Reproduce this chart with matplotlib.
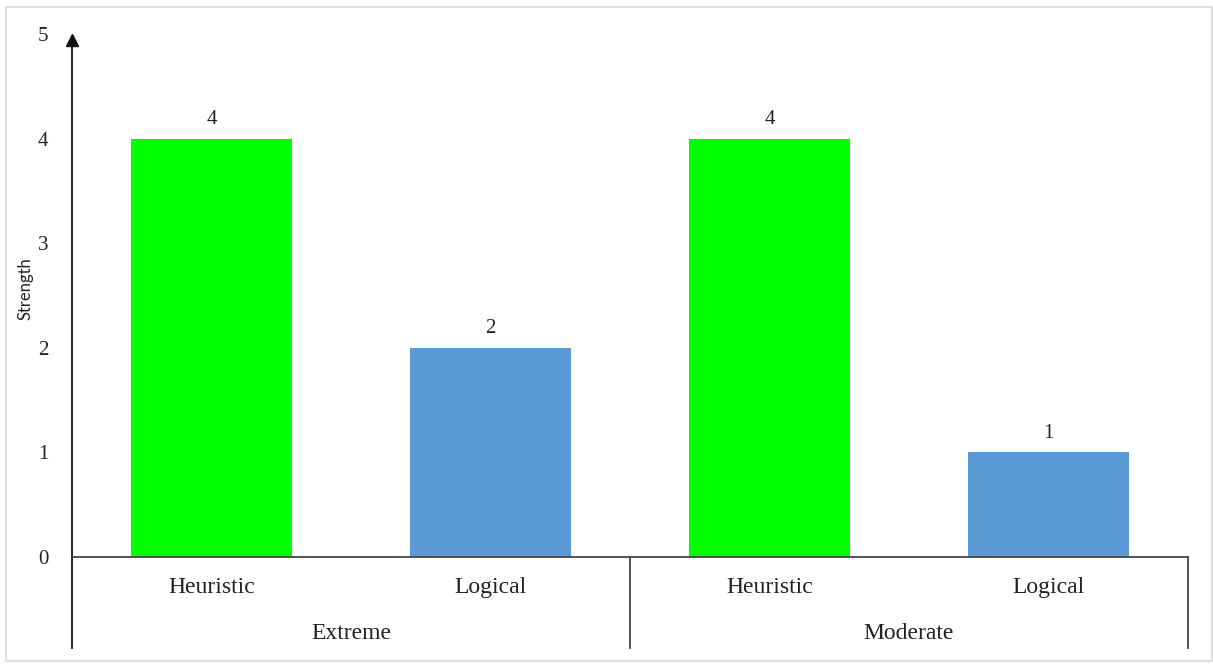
import matplotlib
matplotlib.use("Agg")
import matplotlib.pyplot as plt
from matplotlib.patches import Rectangle

# данные графика
groups = ["Extreme", "Moderate"]
methods = ["Heuristic", "Logical", "Heuristic", "Logical"]
strength = [4, 2, 4, 1]
bar_colors = ["#00FF00", "#5B9BD5", "#00FF00", "#5B9BD5"]
y_ticks = [0, 1, 2, 3, 4, 5]

plt.rcParams['font.family'] = ['Liberation Serif', 'DejaVu Serif']

fig = plt.figure(figsize=(12.13, 6.66), dpi=100)
ax = fig.add_axes([0.0594, 0.1637, 0.9200, 0.7845])

# рамка вокруг картинки
fig.patches.append(Rectangle((0.005, 0.008), 0.994, 0.981, transform=fig.transFigure,
                             fill=False, edgecolor="#d9d9d9", linewidth=1.2))

x = list(range(len(methods)))
bars = ax.bar(x, strength, width=0.575, color=bar_colors, zorder=2)

for b, v in zip(bars, strength):
    ax.annotate(str(v), (b.get_x() + b.get_width() / 2, v), xytext=(0, 7),
                textcoords="offset points", ha="center", va="bottom", fontsize=15, color="#222222")

ax.set_xlim(-0.5, len(methods) - 0.5)
ax.set_ylim(0, 5)
ax.set_yticks(y_ticks)
ax.tick_params(axis="y", length=0, pad=17, labelsize=15, colors="#222222")
ax.set_xticks([])

for s in ["top", "right"]:
    ax.spines[s].set_visible(False)
ax.spines["left"].set_visible(False)
ax.spines["bottom"].set_color("#444444")
ax.spines["bottom"].set_linewidth(1.3)

# вертикальная ось со стрелкой
ax.plot([-0.5, -0.5], [-0.174, 0.99], transform=ax.get_xaxis_transform(),
        color="#111111", lw=1.3, clip_on=False)
ax.plot([-0.5], [0.99], marker="^", markersize=8, color="#111111",
        transform=ax.get_xaxis_transform(), clip_on=False)

# разделители групп
for xd in [1.5, 3.5]:
    ax.plot([xd, xd], [-0.174, 0], transform=ax.get_xaxis_transform(),
            color="#444444", lw=1.3, clip_on=False)

trans = ax.get_xaxis_transform()
for xi, m in zip(x, methods):
    ax.text(xi, -0.058, m, transform=trans, ha="center", va="center", fontsize=17, color="#222222")
for gi, g in enumerate(groups):
    ax.text(gi * 2 + 0.5, -0.147, g, transform=trans, ha="center", va="center", fontsize=17, color="#222222")

fig.text(0.021, 0.566, "Strength", rotation=90, ha="center", va="center",
         fontsize=12, family=["Lato", "DejaVu Sans"], color="#222222")

fig.savefig("out.png", dpi=100)
